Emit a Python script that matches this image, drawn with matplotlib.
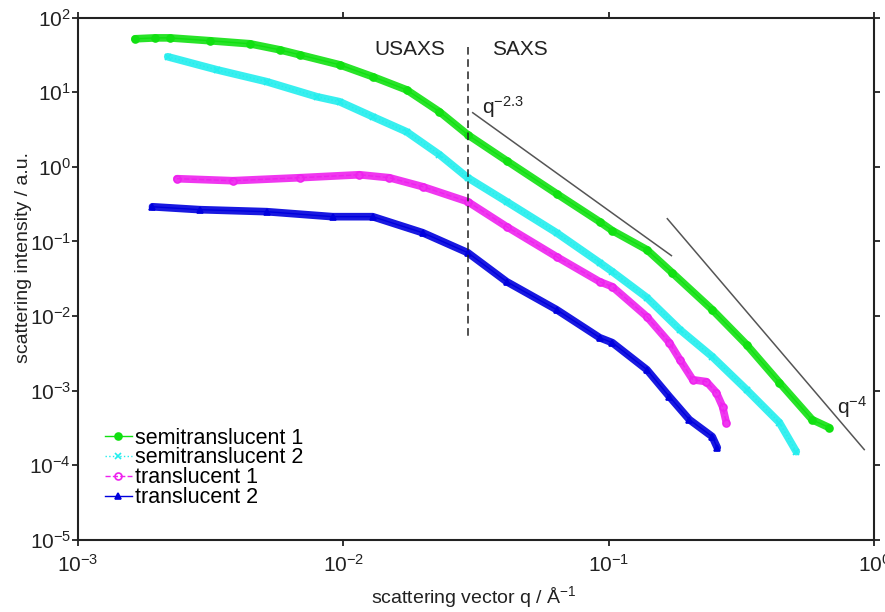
import matplotlib
matplotlib.use('Agg')
import matplotlib.pyplot as plt

plt.rcParams['font.family'] = ['Liberation Sans', 'DejaVu Sans']
plt.rcParams['mathtext.default'] = 'regular'

# values (q in 1/A, intensity in a.u.)
q_semi1 = [1.64e-3, 1.95e-3, 2.22e-3, 3.14e-3, 4.44e-3, 5.75e-3, 6.84e-3, 9.68e-3,
           1.29e-2, 1.73e-2, 2.30e-2, 2.94e-2, 4.12e-2, 6.35e-2, 9.23e-2, 0.103,
           0.139, 0.173, 0.245, 0.330, 0.439, 0.583, 0.676]
i_semi1 = [52.2, 53.7, 53.7, 49.2, 44.8, 37.2, 31.9, 23.4,
           16.2, 10.8, 5.50, 2.70, 1.21, 0.438, 0.184, 0.140,
           0.0776, 0.0382, 0.0122, 4.14e-3, 1.28e-3, 4.08e-4, 3.19e-4]

q_semi2 = [2.18e-3, 3.33e-3, 5.14e-3, 7.94e-3, 9.68e-3, 1.29e-2, 1.73e-2, 2.30e-2,
           2.94e-2, 4.12e-2, 6.35e-2, 9.23e-2, 0.103, 0.139, 0.185, 0.245,
           0.330, 0.439, 0.508]
i_semi2 = [30.0, 20.1, 13.9, 8.73, 7.48, 4.71, 2.96, 1.46,
           0.716, 0.342, 0.131, 0.052, 0.0394, 0.0177, 6.58e-3, 2.86e-3,
           1.03e-3, 3.72e-4, 1.52e-4]

q_trans1 = [2.36e-3, 3.83e-3, 6.84e-3, 1.15e-2, 1.49e-2, 1.99e-2, 2.94e-2, 4.12e-2,
            6.35e-2, 9.23e-2, 0.103, 0.139, 0.169, 0.185, 0.207, 0.233,
            0.254, 0.268, 0.277]
i_trans1 = [0.695, 0.653, 0.716, 0.785, 0.716, 0.543, 0.342, 0.158,
            0.0625, 0.0289, 0.0248, 9.82e-3, 4.40e-3, 2.61e-3, 1.40e-3, 1.32e-3,
            9.40e-4, 6.11e-4, 3.72e-4]

q_trans2 = [1.91e-3, 2.88e-3, 5.14e-3, 9.12e-3, 1.29e-2, 1.99e-2, 2.94e-2, 4.12e-2,
            6.35e-2, 9.23e-2, 0.103, 0.139, 0.169, 0.201, 0.245, 0.256]
i_trans2 = [0.292, 0.267, 0.251, 0.215, 0.215, 0.131, 0.0708, 0.0289,
            0.0122, 5.13e-3, 4.40e-3, 1.91e-3, 8.32e-4, 4.08e-4, 2.42e-4, 1.72e-4]

# guide lines and the USAXS/SAXS boundary
q_slope23 = [0.0307, 0.172]
i_slope23 = [5.33, 0.0646]
q_slope4 = [0.166, 0.916]
i_slope4 = [0.202, 1.62e-4]
q_border = [0.0294, 0.0294]
i_border = [40.8, 4.8e-3]

xticks = [1e-3, 1e-2, 1e-1, 1]
xtick_labels = ['$10^{-3}$', '$10^{-2}$', '$10^{-1}$', '$10^{0}$']
yticks = [1e-5, 1e-4, 1e-3, 1e-2, 1e-1, 1, 1e1, 1e2]
ytick_labels = ['$10^{-5}$', '$10^{-4}$', '$10^{-3}$', '$10^{-2}$',
                '$10^{-1}$', '$10^{0}$', '$10^{1}$', '$10^{2}$']

fig = plt.figure(figsize=(8.85, 6.12), dpi=100)
ax = fig.add_axes([0.088, 0.118, 0.9, 0.853])

series = [
    (q_semi1, i_semi1, '#11e011', 'o', '-', 'full', 'semitranslucent 1'),
    (q_semi2, i_semi2, '#22eeee', 'x', ':', 'full', 'semitranslucent 2'),
    (q_trans1, i_trans1, '#ee22ee', 'o', '--', 'none', 'translucent 1'),
    (q_trans2, i_trans2, '#0000dd', '^', '-', 'full', 'translucent 2'),
]
for q, i, c, m, ls, fill, lab in series:
    ax.plot(q, i, color=c, lw=5.5, solid_capstyle='round', alpha=0.9)
    ax.plot(q, i, color=c, ls=ls, lw=1, marker=m, ms=5, fillstyle=fill,
            mew=1.2, label=lab)

ax.plot(q_slope23, i_slope23, color='#555555', lw=1.1)
ax.plot(q_slope4, i_slope4, color='#555555', lw=1.1)
ax.plot(q_border, i_border, color='#222222', lw=1.1, ls=(0, (5, 3)))

ax.text(0.0178, 38, 'USAXS', fontsize=15, ha='center', va='center', color='#222222')
ax.text(0.0461, 38, 'SAXS', fontsize=15, ha='center', va='center', color='#222222')
ax.text(0.0334, 6.3, '$q^{-2.3}$', fontsize=15, ha='left', va='center', color='#222222')
ax.text(0.724, 6.0e-4, '$q^{-4}$', fontsize=15, ha='left', va='center', color='#222222')

ax.set_xscale('log')
ax.set_yscale('log')
ax.set_xlim(1e-3, 1)
ax.set_ylim(1e-5, 1e2)
ax.set_xticks(xticks)
ax.set_xticklabels(xtick_labels)
ax.set_yticks(yticks)
ax.set_yticklabels(ytick_labels)
ax.minorticks_off()
ax.tick_params(direction='out', length=4, width=1.3, labelsize=15, top=True, right=True,
               colors='#222222')
ax.tick_params(axis='x', pad=6)
ax.tick_params(axis='y', pad=1)
for s in ax.spines.values():
    s.set_linewidth(1.5)
    s.set_color('#222222')

ax.set_xlabel('scattering vector q / Å$^{-1}$', fontsize=14, color='#222222')
ax.set_ylabel('scattering intensity / a.u.', fontsize=14, color='#222222')
ax.xaxis.set_label_coords(0.497, -0.084)
ax.yaxis.set_label_coords(-0.058, 0.54)

ax.legend(loc='upper left', bbox_to_anchor=(0.034, 0.215), frameon=False, fontsize=15.5,
          handlelength=1.25, handletextpad=0.15, labelspacing=-0.05, borderpad=0,
          borderaxespad=0)

fig.savefig('out.png', dpi=100)
